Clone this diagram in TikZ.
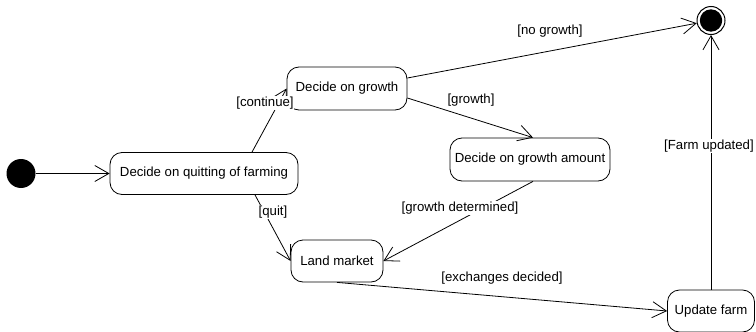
\documentclass[tikz,border=0pt]{standalone}
\usepackage{fontspec}
\setmainfont{Liberation Sans}
\usetikzlibrary{arrows.meta}
\begin{document}
\begin{tikzpicture}[x=1pt,y=-1pt,line width=0.8pt,
  txt/.style={font=\fontsize{13.2}{15}\selectfont},
  state/.style={txt, draw, rounded corners=12pt, minimum height=42pt, inner sep=0pt},
  guard/.style={txt, fill=white, inner sep=0.6pt},
  flow/.style={-{Straight Barb[length=14pt,width=16pt]}}]
\useasboundingbox (0,0) rectangle (756,332);

% pseudo states
\node[circle, fill=black, minimum size=29pt, inner sep=0pt] (init) at (21,173.5) {};
\node[circle, draw, line width=1pt, minimum size=28pt, inner sep=0pt] (final) at (711,20.5) {};
\fill (final) circle (11.2pt);

% states
\node[state, minimum width=188pt] (quit)   at (204,173.5) {Decide on quitting of farming};
\node[state, minimum width=120pt, minimum height=43pt] (grow) at (347,88.5) {Decide on growth};
\node[state, minimum width=160pt, minimum height=43pt] (amount) at (530,159.5) {Decide on growth amount};
\node[state, minimum width=92pt]  (land)   at (337,261) {Land market};
\node[state, minimum width=87pt]  (update) at (711,311) {Update farm};

% transitions
\draw[flow] (init) -- (quit.west);
\draw[flow] ([xshift=48pt]quit.north) -- (grow.west);
\draw[flow] ([xshift=51pt]quit.south) -- (land.west);
\draw[flow] ([yshift=10.5pt]grow.east) -- (final);
\draw[flow] ([yshift=-9.5pt]grow.east) -- ([xshift=3pt]amount.north);
\draw[flow] ([xshift=3pt]amount.south) -- (land.east);
\draw[flow] (land.south) -- (update.west);
\draw[flow] (update.north) -- (final.south);

% guards
\node[guard] (gcont)  at (265,103) {[continue]};
\node[guard] (gquit)  at (273,212) {[quit]};
\node[guard] (gno)    at (550,31)  {[no growth]};
\node[guard] (ggrow)  at (471,100) {[growth]};
\node[guard] (gdet)   at (460,208) {[growth determined]};
\node[guard] (gexch)  at (502,278) {[exchanges decided]};
\node[guard] (gfarm)  at (709,146) {[Farm updated]};
\end{tikzpicture}
\end{document}
